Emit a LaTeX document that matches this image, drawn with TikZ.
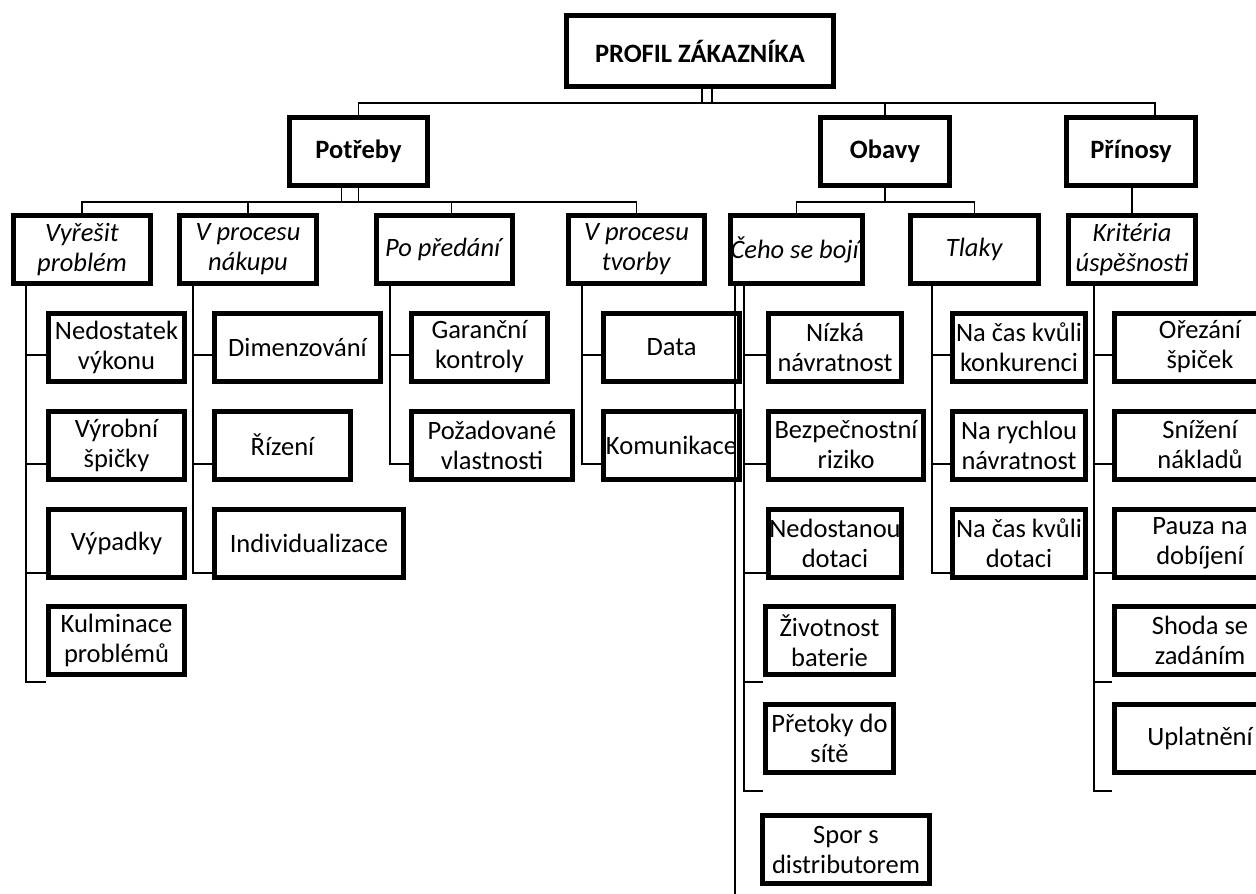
\documentclass[tikz,border=0pt]{standalone}
\usepackage{fontspec}
\setmainfont{Carlito}
\tikzset{
  box/.style={
    rectangle,
    minimum height=68,
    inner sep=0pt,
    line width=5pt,
    align=center,
    font=\fontsize{26.5}{30}\selectfont,
  draw
  },
  link/.style={
    line width=1.4pt
  }
}

\begin{document}
\begin{tikzpicture}[x=1pt,y=-1pt]
    \useasboundingbox (0,0) rectangle (1256,894);
    \clip (0,0) rectangle (1256,894);
    % top and first level
    \node[box,minimum width=267,minimum height=71] (top) at (700,51) {\textbf{PROFIL ZÁKAZNÍKA}};
    \node[box,minimum width=138] (pot) at (358.5,151.5) {\textbf{Potřeby}};
    \node[box,minimum width=129] (oba) at (885,151.5) {\textbf{Obavy}};
    \node[box,minimum width=129] (pri) at (1131,151.5) {\textbf{Přínosy}};
    % second level
    \node[box,minimum width=137] (vyr) at (82,249.5) {\textit{Vyřešit}\\\textit{problém}};
    \node[box,minimum width=137] (nak) at (248,249.5) {\textit{V procesu}\\\textit{nákupu}};
    \node[box,minimum width=136] (pre) at (444.5,249.5) {\textit{Po předání}};
    \node[box,minimum width=136] (tvo) at (636.5,249.5) {\textit{V procesu}\\\textit{tvorby}};
    \node[box,minimum width=128] (ceh) at (796.5,249.5) {\textit{Čeho se bojí}};
    \node[box,minimum width=128] (tla) at (974.5,249.5) {\textit{Tlaky}};
    \node[box,minimum width=127] (kri) at (1132,249.5) {\textit{Kritéria}\\\textit{úspěšnosti}};
    % Vyřešit problém
    \node[box,minimum width=136] (vyr1) at (116.5,347) {Nedostatek\\výkonu};
    \node[box,minimum width=136] (vyr2) at (116.5,445) {Výrobní\\špičky};
    \node[box,minimum width=136] (vyr3) at (116.5,543) {Výpadky};
    \node[box,minimum width=136] (vyr4) at (116.5,640.5) {Kulminace\\problémů};
    % V procesu nákupu
    \node[box,minimum width=166] (nak1) at (297.5,347) {Dimenzování};
    \node[box,minimum width=136] (nak2) at (282.5,445) {Řízení};
    \node[box,minimum width=189] (nak3) at (309,543) {Individualizace};
    % Po předání
    \node[box,minimum width=136] (pre1) at (479.5,347) {Garanční\\kontroly};
    \node[box,minimum width=161] (pre2) at (492,445) {Požadované\\vlastnosti};
    % V procesu tvorby
    \node[box,minimum width=136] (tvo1) at (671.5,347) {Data};
    \node[box,minimum width=136] (tvo2) at (671.5,445) {Komunikace};
    % Čeho se bojí
    \node[box,minimum width=133] (ceh1) at (835,347) {Nízká\\návratnost};
    \node[box,minimum width=155] (ceh2) at (846,445) {Bezpečnostní\\riziko};
    \node[box,minimum width=133] (ceh3) at (835,543) {Nedostanou\\dotaci};
    \node[box,minimum width=128] (ceh4) at (829.5,640.5) {Životnost\\baterie};
    \node[box,minimum width=128] (ceh5) at (829.5,738) {Přetoky do\\sítě};
    \node[box,minimum width=167] (ceh6) at (846,849.5) {Spor s\\distributorem};
    % Tlaky
    \node[box,minimum width=133] (tla1) at (1019,347) {Na čas kvůli\\konkurenci};
    \node[box,minimum width=133] (tla2) at (1019,445) {Na rychlou\\návratnost};
    \node[box,minimum width=133] (tla3) at (1019,543) {Na čas kvůli\\dotaci};
    % Kritéria úspěšnosti
    \node[box,minimum width=171] (kri1) at (1200,347) {Ořezání\\špiček};
    \node[box,minimum width=171] (kri2) at (1200,445) {Snížení\\nákladů};
    \node[box,minimum width=171] (kri3) at (1200,543) {Pauza na\\dobíjení};
    \node[box,minimum width=171] (kri4) at (1200,640.5) {Shoda se\\zadáním};
    \node[box,minimum width=171] (kri5) at (1200,738) {Uplatnění};

    % connectors
    \coordinate (bus) at (700,103);
    \coordinate (lvl2) at (0,202);
    \coordinate (cehend) at (737,896);
    \draw[link] ([xshift=2]top.south) -- ([xshift=2]top.south |- bus);
    \draw[link] ([xshift=12]top.south) -- ([xshift=12]top.south |- bus);
    \draw[link] (pot.north) |- ([xshift=24]pri.north |- bus) -- ([xshift=24]pri.north);
    \draw[link] (oba.north) -- (oba.north |- bus);
    \draw[link] (pot.south) -- (pot.south |- lvl2);
    \draw[link] ([xshift=-17]pot.south) -- ([xshift=-17]pot.south |- lvl2);
    \draw[link] (vyr.north) |- (tvo.north |- lvl2) -- (tvo.north);
    \draw[link] (nak.north) -- (nak.north |- lvl2);
    \draw[link] ([xshift=7]pre.north) -- ([xshift=7]pre.north |- lvl2);
    \draw[link] (oba.south) -- (oba.south |- lvl2);
    \draw[link] (ceh.north) |- (tla.north |- lvl2) -- (tla.north);
    \draw[link] (kri.north |- pri.south) -- (kri.north);

    \draw[link] ([xshift=15]vyr.south west) |- ([yshift=-8]vyr1.west);
    \draw[link] ([xshift=15]vyr.south west) |- ([yshift=-19]vyr2.west);
    \draw[link] ([xshift=15]vyr.south west) |- ([yshift=-30]vyr3.west);
    \draw[link] ([xshift=15]vyr.south west) |- ([yshift=-41.5]vyr4.west);

    \draw[link] ([xshift=16]nak.south west) |- ([yshift=-8]nak1.west);
    \draw[link] ([xshift=16]nak.south west) |- ([yshift=-19]nak2.west);
    \draw[link] ([xshift=16]nak.south west) |- ([yshift=-30]nak3.west);

    \draw[link] ([xshift=16]pre.south west) |- ([yshift=-8]pre1.west);
    \draw[link] ([xshift=16]pre.south west) |- ([yshift=-19]pre2.west);

    \draw[link] ([xshift=16]tvo.south west) |- ([yshift=-8]tvo1.west);
    \draw[link] ([xshift=16]tvo.south west) |- ([yshift=-19]tvo2.west);

    \draw[link] ([xshift=7]ceh.south west) -- ([xshift=7]ceh.south west |- cehend);
    \draw[link] ([xshift=16]ceh.south west) |- ([yshift=-8]ceh1.west);
    \draw[link] ([xshift=16]ceh.south west) |- ([yshift=-19]ceh2.west);
    \draw[link] ([xshift=16]ceh.south west) |- ([yshift=-30]ceh3.west);
    \draw[link] ([xshift=16]ceh.south west) |- ([yshift=-41.5]ceh4.west);
    \draw[link] ([xshift=16]ceh.south west) |- ([yshift=-53]ceh5.west);

    \draw[link] ([xshift=24]tla.south west) |- ([yshift=-8]tla1.west);
    \draw[link] ([xshift=24]tla.south west) |- ([yshift=-19]tla2.west);
    \draw[link] ([xshift=24]tla.south west) |- ([yshift=-30]tla3.west);

    \draw[link] ([xshift=28]kri.south west) |- ([yshift=-8]kri1.west);
    \draw[link] ([xshift=28]kri.south west) |- ([yshift=-19]kri2.west);
    \draw[link] ([xshift=28]kri.south west) |- ([yshift=-30]kri3.west);
    \draw[link] ([xshift=28]kri.south west) |- ([yshift=-41.5]kri4.west);
    \draw[link] ([xshift=28]kri.south west) |- ([yshift=-53]kri5.west);
\end{tikzpicture}
\end{document}
